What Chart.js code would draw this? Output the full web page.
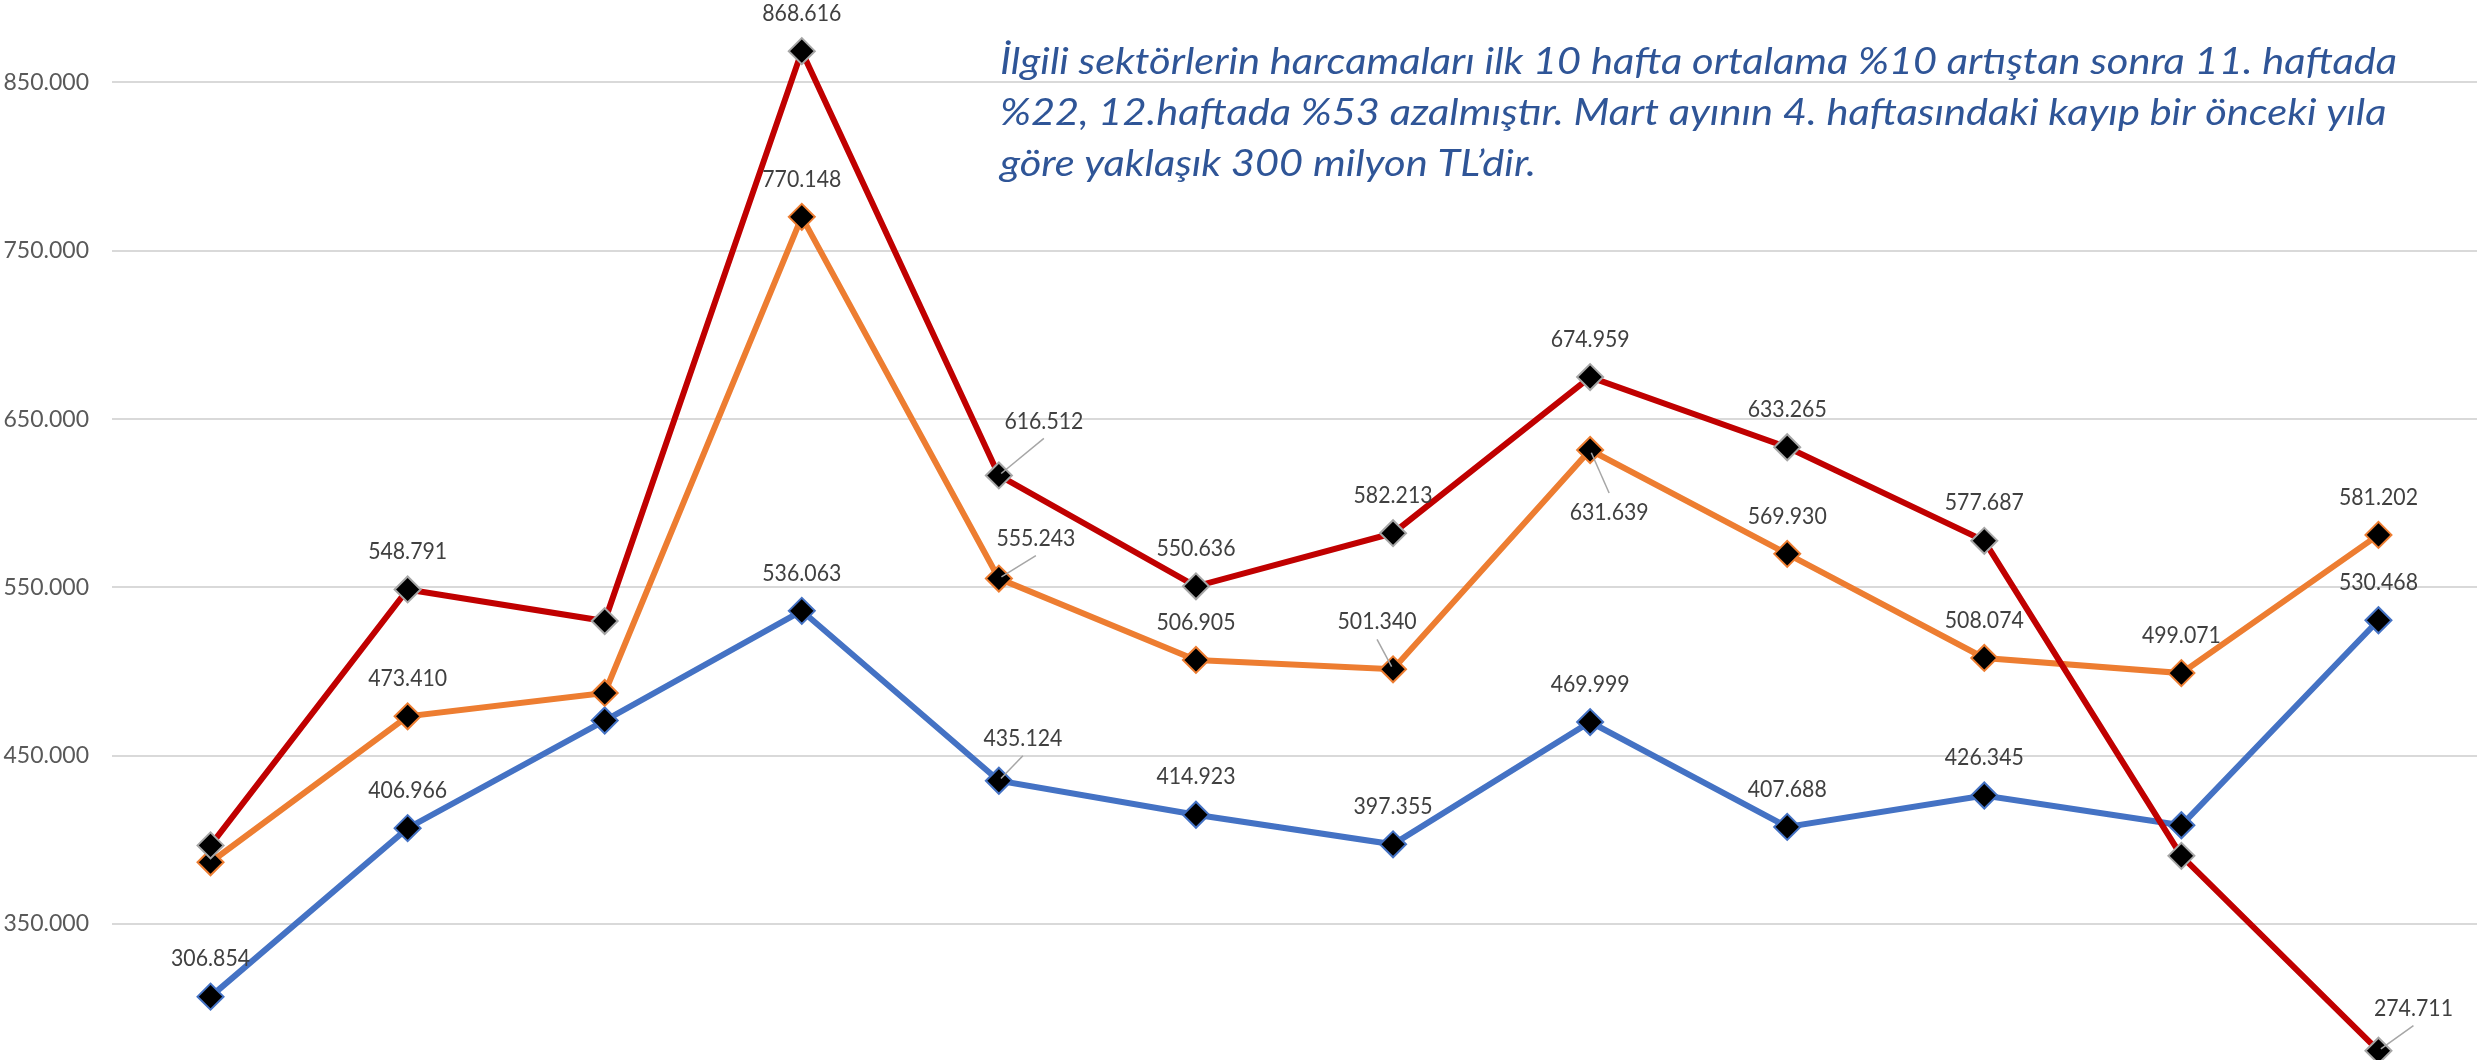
<!DOCTYPE html>
<html lang="tr">
<head>
<meta charset="utf-8">
<title>Haftalık harcamalar</title>
<script src="https://cdn.jsdelivr.net/npm/chart.js@4.4.1/dist/chart.umd.min.js"></script>
<style>
    html, body { margin: 0; padding: 0; background: #fff; }
    #chart { display: block; }
</style>
</head>
<body>
<canvas id="chart" width="2481" height="1060" style="width:2481px;height:1060px"></canvas>
<script>
const weeks = ["1. hafta", "2. hafta", "3. hafta", "4. hafta", "5. hafta", "6. hafta",
    "7. hafta", "8. hafta", "9. hafta", "10. hafta", "11. hafta", "12. hafta"];

// red, orange, blue lines (values in the same unit as the labels, dot = thousands)
const spend2020 = [396700, 548791, 530000, 868616, 616512, 550636, 582213, 674959, 633265, 577687, 390500, 274711];
const spend2019 = [386700, 473410, 487300, 770148, 555243, 506905, 501340, 631639, 569930, 508074, 499071, 581202];
const spend2018 = [306854, 406966, 470900, 536063, 435124, 414923, 397355, 469999, 407688, 426345, 408700, 530468];

const seriesNames = ["2020", "2019", "2018"];
const yTickValues = [350000, 450000, 550000, 650000, 750000, 850000];

const noteLines = [
    "İlgili sektörlerin harcamaları ilk 10 hafta ortalama %10 artıştan sonra 11. haftada",
    "%22, 12.haftada %53 azalmıştır. Mart ayının 4. haftasındaki kayıp bir önceki yıla",
    "göre yaklaşık 300 milyon TL’dir."
];

// which points carry no value label, and labels moved off their default spot (dx, dy from the point)
const hiddenLabels = { 0: [0, 2, 10], 1: [0, 2], 2: [2, 10] };
const movedLabels = {
    "0-4": [45, -55],
    "0-11": [35, -43],
    "1-4": [37, -41],
    "1-6": [-16, -48],
    "1-7": [19, 62],
    "2-4": [24, -43]
};
const LABEL_ABOVE = -38.5;
const LABEL_WIDTH = 79;
const LABEL_FONT = "23px Lato, 'Open Sans', sans-serif";

function formatTr(v) {
    return String(Math.round(v)).replace(/\B(?=(\d{3})+(?!\d))/g, ".");
}

const pointLabels = {
    id: "pointLabels",
    afterDatasetsDraw(chart) {
        const ctx = chart.ctx;
        ctx.save();
        ctx.font = LABEL_FONT;
        const sx = LABEL_WIDTH / ctx.measureText("888.888").width;

        chart.data.datasets.forEach((ds, di) => {
            const meta = chart.getDatasetMeta(di);
            meta.data.forEach((pt, i) => {
                if ((hiddenLabels[di] || []).includes(i)) {
                    return;
                }
                const moved = movedLabels[di + "-" + i];
                const off = moved || [0, LABEL_ABOVE];
                const cx = pt.x + off[0];
                const cy = pt.y + off[1];

                if (moved) {
                    const sy = cy + (off[1] < 0 ? 18 : -19);
                    const dx = pt.x - cx;
                    const dy = pt.y - sy;
                    const len = Math.hypot(dx, dy);
                    ctx.strokeStyle = "#A6A6A6";
                    ctx.lineWidth = 1.5;
                    ctx.beginPath();
                    ctx.moveTo(cx, sy);
                    ctx.lineTo(pt.x - dx / len * 3, pt.y - dy / len * 3);
                    ctx.stroke();
                }

                ctx.save();
                ctx.translate(cx, cy + 8.2);
                ctx.scale(sx, 1);
                ctx.fillStyle = "#404040";
                ctx.textAlign = "center";
                ctx.textBaseline = "alphabetic";
                ctx.fillText(formatTr(ds.data[i]), 0, 0);
                ctx.restore();
            });
        });
        ctx.restore();
    }
};

const noteText = {
    id: "noteText",
    afterDraw(chart) {
        const ctx = chart.ctx;
        ctx.save();
        ctx.font = "italic 37px Lato, 'Open Sans', sans-serif";
        ctx.fillStyle = "#2F5597";
        ctx.textAlign = "left";
        ctx.textBaseline = "alphabetic";
        const sx = 1397 / ctx.measureText(noteLines[0]).width;
        noteLines.forEach((line, i) => {
            ctx.save();
            ctx.translate(1000, 74 + i * 51);
            ctx.scale(sx, 1);
            ctx.fillText(line, 0, 0);
            ctx.restore();
        });
        ctx.restore();
    }
};

function lineSet(name, values, color, markerBorder) {
    return {
        label: name,
        data: values,
        borderColor: color,
        borderWidth: 6,
        pointStyle: "rectRot",
        pointRadius: 13,
        pointHoverRadius: 13,
        pointBackgroundColor: "#000",
        pointBorderColor: markerBorder,
        pointBorderWidth: 2,
        tension: 0,
        clip: false
    };
}

new Chart(document.getElementById("chart").getContext("2d"), {
    type: "line",
    data: {
        labels: weeks,
        datasets: [
            lineSet(seriesNames[0], spend2020, "#C00000", "#A6A6A6"),
            lineSet(seriesNames[1], spend2019, "#ED7D31", "#ED7D31"),
            lineSet(seriesNames[2], spend2018, "#4472C4", "#4472C4")
        ]
    },
    options: {
        responsive: false,
        animation: false,
        devicePixelRatio: 1,
        layout: {
            autoPadding: false,
            padding: { left: 0, right: 4, top: 0, bottom: 0 }
        },
        plugins: {
            legend: { display: false },
            tooltip: { enabled: false }
        },
        scales: {
            x: {
                display: false,
                offset: true
            },
            y: {
                min: 269200,
                max: 899000,
                afterBuildTicks(scale) {
                    scale.ticks = yTickValues.map((v) => ({ value: v }));
                },
                afterFit(scale) {
                    scale.width = 112;
                    scale.paddingTop = 0;
                    scale.paddingBottom = 0;
                },
                border: { display: false },
                grid: {
                    color: "#D9D9D9",
                    lineWidth: 2,
                    drawTicks: false
                },
                ticks: {
                    padding: 23,
                    color: "#595959",
                    font: { family: "Lato, 'Open Sans', sans-serif", size: 23 },
                    callback: (v) => formatTr(v)
                }
            }
        }
    },
    plugins: [pointLabels, noteText]
});
</script>
</body>
</html>
